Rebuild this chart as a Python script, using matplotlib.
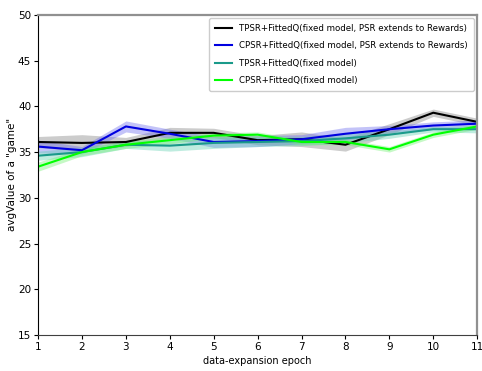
import numpy as np
import matplotlib
matplotlib.use("Agg")
import matplotlib.pyplot as plt

plt.rcParams["font.family"] = ["DejaVu Sans"]

epochs = np.arange(1, 12)

# mean returns per data-expansion epoch
tpsr_rew = [36.1, 36.0, 36.1, 37.1, 37.1, 36.3, 36.4, 35.8, 37.5, 39.3, 38.3]
cpsr_rew = [35.6, 35.2, 37.8, 37.0, 36.1, 36.2, 36.4, 37.0, 37.5, 37.9, 38.1]
tpsr_fix = [34.6, 35.0, 35.8, 35.7, 36.0, 36.1, 36.2, 36.5, 36.9, 37.5, 37.5]
cpsr_fix = [33.4, 35.0, 35.8, 36.3, 36.8, 36.9, 36.1, 36.1, 35.3, 36.9, 37.8]

# spread around each mean
tpsr_rew_sd = [0.6, 0.9, 0.5, 0.6, 0.5, 0.5, 0.8, 0.7, 0.6, 0.4, 0.4]
cpsr_rew_sd = [0.7, 0.4, 0.6, 0.5, 0.6, 0.6, 0.5, 0.7, 0.4, 0.4, 0.4]
tpsr_fix_sd = [0.5, 0.5, 0.4, 0.6, 0.6, 0.5, 0.5, 0.5, 0.4, 0.3, 0.4]
cpsr_fix_sd = [0.5, 0.4, 0.4, 0.4, 0.3, 0.3, 0.3, 0.3, 0.3, 0.3, 0.3]

series = [
    ("TPSR+FittedQ(fixed model, PSR extends to Rewards)", tpsr_rew, tpsr_rew_sd, "black", "gray"),
    ("CPSR+FittedQ(fixed model, PSR extends to Rewards)", cpsr_rew, cpsr_rew_sd, "#0000e0", "#6a6aee"),
    ("TPSR+FittedQ(fixed model)", tpsr_fix, tpsr_fix_sd, "#1a9a8a", "#60d0b0"),
    ("CPSR+FittedQ(fixed model)", cpsr_fix, cpsr_fix_sd, "#00ff00", "#70f070"),
]

fig = plt.figure(figsize=(4.82, 3.71), dpi=100)
ax = fig.add_axes([0.079, 0.097, 0.911, 0.863])

for label, mean, sd, col, band in series:
    mean = np.array(mean)
    sd = np.array(sd)
    ax.fill_between(epochs, mean - sd, mean + sd, color=band, alpha=0.4, linewidth=0)
    ax.plot(epochs, mean, color=col, lw=1.5, label=label)

ax.set_xlim(1, 11)
ax.set_ylim(15, 50)
ax.set_xticks(epochs)
ax.set_yticks(np.arange(15, 51, 5))
ax.tick_params(labelsize=7.5, length=3, pad=2)

ax.set_xlabel("data-expansion epoch", fontsize=7, labelpad=3)
ax.set_ylabel('avgValue of a "game"', fontsize=7.5, labelpad=0.5)

for s in ["top", "right"]:
    ax.spines[s].set_color("#909090")
    ax.spines[s].set_linewidth(1.6)
ax.spines["bottom"].set_color("#404040")

ax.legend(loc="upper right", fontsize=6.2, handlelength=2.0,
          borderaxespad=0.4, labelspacing=0.95, borderpad=0.7,
          framealpha=1)

fig.savefig("out.png", dpi=100)
